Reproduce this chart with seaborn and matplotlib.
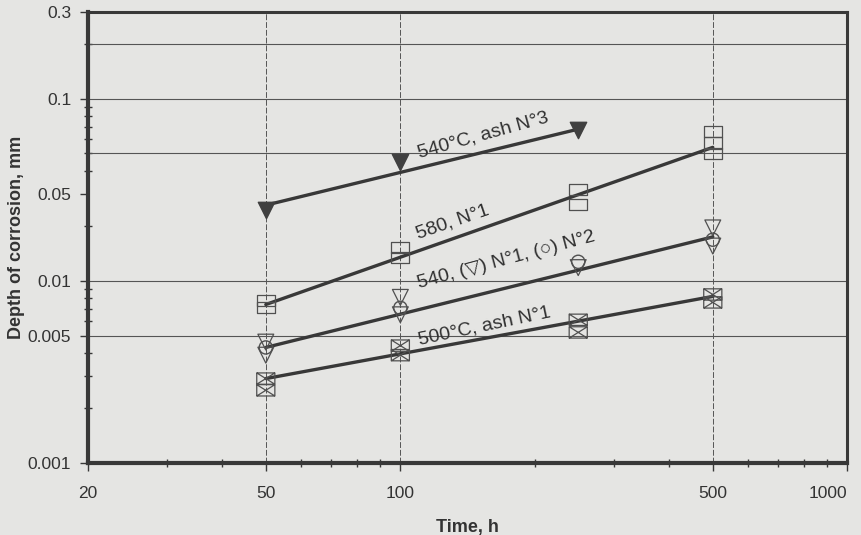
import numpy as np
import seaborn as sns
import matplotlib.pyplot as plt
from matplotlib.path import Path
from matplotlib.ticker import FixedLocator, LogLocator, NullFormatter

sns.set_style('ticks')
plt.rcParams['font.family'] = ['Liberation Sans', 'DejaVu Sans']

# time, h and depth of corrosion, mm
# 540 C, ash N3 (filled down triangles)
t_540a3 = [50, 100, 250]
d_540a3 = [0.0245, 0.045, 0.067]
fit_540a3_t = [50, 250]
fit_540a3_d = [0.026, 0.068]

# 580, N1 (rectangles)
t_580 = [50, 50, 100, 100, 250, 250, 500, 500, 500]
d_580 = [0.0078, 0.0071, 0.0152, 0.0134, 0.0316, 0.0262, 0.066, 0.057, 0.050]
fit_580_t = [50, 500]
fit_580_d = [0.0074, 0.054]

# 540, (v) N1 and (o) N2
t_540tri = [50, 50, 100, 100, 250, 500, 500]
d_540tri = [0.0046, 0.0039, 0.0081, 0.0065, 0.0118, 0.0195, 0.0155]
t_540circ = [50, 100, 250, 500]
d_540circ = [0.0043, 0.0071, 0.0127, 0.0168]
fit_540_t = [50, 500]
fit_540_d = [0.0043, 0.0174]

# 500 C, ash N1 (boxes with cross)
t_500 = [50, 50, 100, 100, 250, 250, 500, 500]
d_500 = [0.0029, 0.0025, 0.0044, 0.0039, 0.0061, 0.0052, 0.0084, 0.0076]
fit_500_t = [50, 500]
fit_500_d = [0.0029, 0.0082]

xticks = [20, 50, 100, 500, 1000]
xlabels = ['20', '50', '100', '500', '1000']
yticks = [0.001, 0.005, 0.01, 0.03, 0.1, 0.3]
ylabels = ['0.001', '0.005', '0.01', '0.05', '0.1', '0.3']
hgrid = [0.005, 0.01, 0.05, 0.1, 0.2]
vgrid = [50, 100, 500]

# curve labels: text, time, depth, angle
labels = [
    ('540°C, ash N°3', 153, 0.063, 15.5),
    ('580, N°1', 131, 0.021, 19),
    ('540, (▽) N°1, (○) N°2', 173, 0.013, 15),
    ('500°C, ash N°1', 154, 0.00565, 12),
]

ink = '#383838'
bg = '#e5e5e3'

rect = Path([(-0.8, -0.5), (0.8, -0.5), (0.8, 0.5), (-0.8, 0.5), (-0.8, -0.5)],
            [Path.MOVETO, Path.LINETO, Path.LINETO, Path.LINETO, Path.CLOSEPOLY])
boxx = Path([(-0.8, -0.5), (0.8, -0.5), (0.8, 0.5), (-0.8, 0.5), (-0.8, -0.5),
             (-0.8, -0.5), (0.8, 0.5), (-0.8, 0.5), (0.8, -0.5)],
            [Path.MOVETO, Path.LINETO, Path.LINETO, Path.LINETO, Path.CLOSEPOLY,
             Path.MOVETO, Path.LINETO, Path.MOVETO, Path.LINETO])

fig = plt.figure(figsize=(8.62, 5.35), dpi=100, facecolor=bg)
ax = fig.add_axes([0.102, 0.135, 0.881, 0.843])
ax.set_facecolor(bg)
ax.set_xscale('log')
ax.set_yscale('log')
ax.set_xlim(20, 1000)
ax.set_ylim(0.001, 0.3)

for v in hgrid:
    ax.axhline(v, color='#555555', lw=0.8, zorder=1)
for v in vgrid:
    ax.axvline(v, color='#555555', lw=0.7, ls=(0, (6, 2)), zorder=1)

for ft, fd in [(fit_540a3_t, fit_540a3_d), (fit_580_t, fit_580_d),
               (fit_540_t, fit_540_d), (fit_500_t, fit_500_d)]:
    sns.lineplot(x=ft, y=fd, ax=ax, color=ink, lw=2.4, zorder=3)

sns.scatterplot(x=t_540a3, y=d_540a3, ax=ax, marker='v', s=140,
                color='#404040', edgecolor='#404040', zorder=4)
sns.scatterplot(x=t_580, y=d_580, ax=ax, marker=rect, s=170, color=ink,
                facecolor='none', edgecolor='#505050', linewidth=0.9, zorder=4)
sns.scatterplot(x=t_540tri, y=d_540tri, ax=ax, marker='v', s=130, color=ink,
                facecolor='none', edgecolor='#505050', linewidth=0.9, zorder=4)
sns.scatterplot(x=t_540circ, y=d_540circ, ax=ax, marker='o', s=90, color=ink,
                facecolor='none', edgecolor='#505050', linewidth=1.0, zorder=4)
sns.scatterplot(x=t_500, y=d_500, ax=ax, marker=boxx, s=170, color=ink,
                facecolor='none', edgecolor='#505050', linewidth=0.9, zorder=4)

for txt, tx, ty, ang in labels:
    ax.text(tx, ty, txt, rotation=ang, rotation_mode='anchor', ha='center',
            va='center', fontsize=14, color='#303030', zorder=5)

ax.xaxis.set_major_locator(FixedLocator(xticks))
ax.set_xticklabels(xlabels)
ax.xaxis.set_minor_locator(LogLocator(base=10, subs=np.arange(2, 10)))
ax.xaxis.set_minor_formatter(NullFormatter())
ax.yaxis.set_major_locator(FixedLocator(yticks))
ax.set_yticklabels(ylabels)
ax.yaxis.set_minor_locator(LogLocator(base=10, subs=np.arange(2, 10)))
ax.yaxis.set_minor_formatter(NullFormatter())
# last tick label sits left of its tick, as in the original
ax.get_xticklabels()[-1].set_horizontalalignment('right')

ax.tick_params(axis='both', which='major', direction='out', length=6, width=1,
               color=ink, labelsize=12.5, labelcolor='#333333')
ax.tick_params(axis='x', which='major', pad=11)
ax.tick_params(axis='y', which='major', pad=6)
ax.tick_params(axis='both', which='minor', direction='inout', length=6,
               width=1, color=ink)

for side in ['left', 'bottom']:
    ax.spines[side].set_linewidth(3)
    ax.spines[side].set_color(ink)
for side in ['top', 'right']:
    ax.spines[side].set_visible(True)
    ax.spines[side].set_linewidth(2.2)
    ax.spines[side].set_color(ink)

ax.set_xlabel('Time, h', fontsize=13, fontweight='bold', color='#333333',
              labelpad=13)
ax.set_ylabel('Depth of corrosion, mm', fontsize=13, fontweight='bold',
              color='#333333', labelpad=2)

fig.savefig('out.png', dpi=100, facecolor=bg)
